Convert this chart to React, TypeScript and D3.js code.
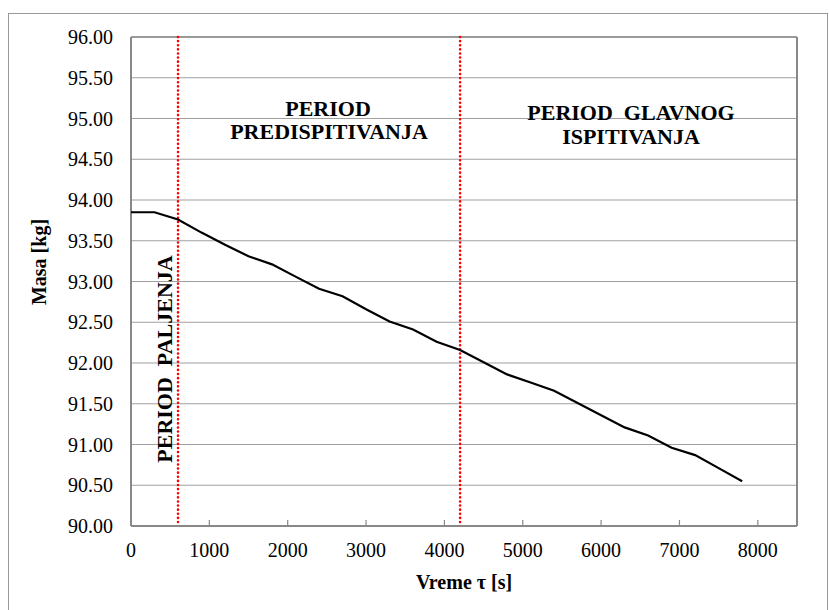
import React from "react";
import * as d3 from "d3";

const times = [0, 300, 600, 900, 1200, 1500, 1800, 2100, 2400, 2700, 3000, 3300, 3600, 3900, 4200, 4500, 4800, 5100, 5400, 5700, 6000, 6300, 6600, 6900, 7200, 7500, 7800];
const masses = [93.85, 93.85, 93.76, 93.6, 93.45, 93.31, 93.21, 93.06, 92.91, 92.82, 92.66, 92.51, 92.41, 92.26, 92.16, 92.01, 91.86, 91.76, 91.66, 91.51, 91.36, 91.21, 91.11, 90.96, 90.87, 90.71, 90.55];
const xTicks = [0, 1000, 2000, 3000, 4000, 5000, 6000, 7000, 8000];
const yTicks = [90, 90.5, 91, 91.5, 92, 92.5, 93, 93.5, 94, 94.5, 95, 95.5, 96];
const periodBounds = [600, 4200];

const W = 829;
const H = 610;
const M = { left: 131, right: 797, top: 37, bottom: 526 };
const FONT = "'Liberation Serif', Tinos, 'DejaVu Serif', serif";

export default function App() {
  const x = d3.scaleLinear().domain([0, 8500]).range([M.left, M.right]);
  const y = d3.scaleLinear().domain([90, 96]).range([M.bottom, M.top]);
  const pts = times.map((t, i) => [t, masses[i]] as [number, number]);
  const line = d3
    .line<[number, number]>()
    .x((d) => x(d[0]))
    .y((d) => y(d[1]));
  const ts: React.CSSProperties = { fontFamily: FONT };
  const tsPre: React.CSSProperties = { fontFamily: FONT, whiteSpace: "pre" };

  return (
    <svg
      width={W}
      height={H}
      style={{ position: "absolute", left: 0, top: 0, display: "block", fontFamily: FONT }}
    >
      <rect x={0} y={0} width={W} height={H} fill="#fff" />
      <rect x={8.5} y={13.5} width={819} height={620} fill="#fff" stroke="#999" strokeWidth={1} />
      {yTicks.map((t) => (
        <line key={"g" + t} x1={M.left} x2={M.right} y1={y(t)} y2={y(t)} stroke="#a0a0a0" strokeWidth={1.2} />
      ))}
      <line x1={M.left} x2={M.left} y1={M.top} y2={M.bottom} stroke="#888" strokeWidth={2} />
      <line x1={M.right} x2={M.right} y1={M.top} y2={M.bottom} stroke="#888" strokeWidth={2} />
      <line x1={M.left} x2={M.right} y1={M.top} y2={M.top} stroke="#888" strokeWidth={1.5} />
      <line x1={M.left} x2={M.right} y1={M.bottom} y2={M.bottom} stroke="#888" strokeWidth={2} />
      {xTicks.map((t) => (
        <line key={"xt" + t} x1={x(t)} x2={x(t)} y1={M.bottom} y2={M.bottom - 6} stroke="#888" strokeWidth={1.2} />
      ))}
      {yTicks.map((t) => (
        <text key={"yl" + t} x={113} y={y(t) + 7} textAnchor="end" fontSize={20} fill="#000" style={ts}>
          {t.toFixed(2)}
        </text>
      ))}
      {xTicks.map((t) => (
        <text key={"xl" + t} x={x(t)} y={557} textAnchor="middle" fontSize={20} fill="#000" style={ts}>
          {t}
        </text>
      ))}
      {periodBounds.map((b) => (
        <line
          key={"p" + b}
          x1={x(b)}
          x2={x(b)}
          y1={M.top}
          y2={M.bottom}
          stroke="#ff0000"
          strokeWidth={2.6}
          strokeDasharray="0.01 4.1"
          strokeLinecap="round"
        />
      ))}
      <path d={line(pts) || ""} fill="none" stroke="#000" strokeWidth={2.2} />
      <text x={328} y={116} textAnchor="middle" fontSize={22} fontWeight="bold" fill="#000" style={ts}>PERIOD</text>
      <text x={329} y={139} textAnchor="middle" fontSize={22} fontWeight="bold" fill="#000" style={ts}>PREDISPITIVANJA</text>
      <text x={631} y={120} textAnchor="middle" fontSize={22} fontWeight="bold" fill="#000" style={tsPre}>
        {"PERIOD  GLAVNOG"}
      </text>
      <text x={631} y={144} textAnchor="middle" fontSize={22} fontWeight="bold" fill="#000" style={ts}>ISPITIVANJA</text>
      <text
        transform={`translate(172, 359) rotate(-90)`}
        textAnchor="middle"
        fontSize={22}
        fontWeight="bold"
        fill="#000"
        style={tsPre}
      >
        {"PERIOD  PALJENJA"}
      </text>
      <text transform={`translate(46, 262) rotate(-90)`} textAnchor="middle" fontSize={20} fontWeight="bold" fill="#000" style={ts}>
        Masa [kg]
      </text>
      <text x={464} y={589} textAnchor="middle" fontSize={20} fontWeight="bold" fill="#000" style={ts}>
        Vreme τ [s]
      </text>
    </svg>
  );
}
